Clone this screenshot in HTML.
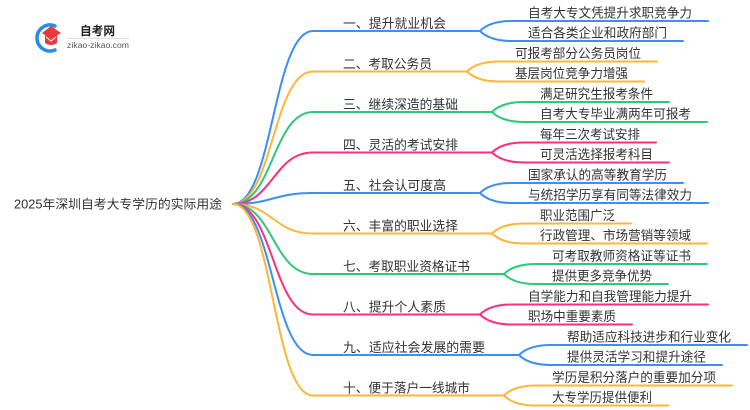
<!DOCTYPE html>
<html>
<head>
<meta charset="utf-8">
<style>
html,body{margin:0;padding:0;background:#fff;}
svg{display:block;}
text{font-family:"Liberation Sans","Noto Sans CJK SC",sans-serif;fill:#333;}
.l1{font-size:13px;}
.c{font-size:13px;}
</style>
</head>
<body>
<svg width="750" height="410" viewBox="0 0 750 410" xmlns="http://www.w3.org/2000/svg">
<rect width="750" height="410" fill="#fff"/>

<!-- Logo -->
<path d="M55,26 A13,13 0 1 0 55,50" fill="none" stroke="#2a8be6" stroke-width="3.5" stroke-linecap="round"/>
<path d="M42,33 L51,26 L61,33 L51,39 Z" fill="#e83a3a"/>
<path d="M45,35 L45,43 Q51,47 57,43 L57,35 L51,39 Z" fill="#e83a3a"/>
<path d="M46,37 L51,41 L56,37" fill="none" stroke="#fff" stroke-width="1"/>
<text x="80" y="35" style="font-size:12px;font-weight:bold;fill:#222" textLength="35" lengthAdjust="spacingAndGlyphs">自考网</text>
<line x1="67" y1="38.5" x2="129" y2="38.5" stroke="#ddd" stroke-width="1"/>
<text x="67" y="48" style="font-size:8.6px;fill:#555" textLength="62" lengthAdjust="spacingAndGlyphs">zikao-zikao.com</text>

<!-- Root -->
<text x="14" y="208.5" style="font-size:12.5px" textLength="208" lengthAdjust="spacingAndGlyphs">2025年深圳自考大专学历的实际用途</text>

<g fill="none" stroke-width="2" stroke-linecap="round">
<!-- Branch 1 -->
<path stroke="#3b8ff6" d="M233,204 C273,204 273,31 313,31 L480,31"/>
<path stroke="#3b8ff6" d="M480,31 Q490,21 512,21 L708,21 M480,31 Q490,41 512,41 L683,41"/>
<!-- Branch 2 -->
<path stroke="#fdb53a" d="M233,204 C273,204 273,71.5 313,71.5 L467,71.5"/>
<path stroke="#fdb53a" d="M467,71.5 Q477,61.5 499,61.5 L657,61.5 M467,71.5 Q477,81.5 499,81.5 L644,81.5"/>
<!-- Branch 3 -->
<path stroke="#2cc97a" d="M233,204 C273,204 273,112 313,112 L492,112"/>
<path stroke="#2cc97a" d="M492,112 Q502,102 524,102 L669,102 M492,112 Q502,122 524,122 L707,122"/>
<!-- Branch 4 -->
<path stroke="#f8317f" d="M233,204 C273,204 273,152.5 313,152.5 L492,152.5"/>
<path stroke="#f8317f" d="M492,152.5 Q502,142.5 524,142.5 L656,142.5 M492,152.5 Q502,162.5 524,162.5 L669,162.5"/>
<!-- Branch 5 -->
<path stroke="#3b8ff6" d="M233,204 C273,204 273,193 313,193 L480,193"/>
<path stroke="#3b8ff6" d="M480,193 Q490,183 512,183 L683,183 M480,193 Q490,203 512,203 L708,203"/>
<!-- Branch 6 -->
<path stroke="#fdb53a" d="M233,204 C273,204 273,233.5 313,233.5 L492,233.5"/>
<path stroke="#fdb53a" d="M492,233.5 Q502,223.5 524,223.5 L631,223.5 M492,233.5 Q502,243.5 524,243.5 L707,243.5"/>
<!-- Branch 7 -->
<path stroke="#2cc97a" d="M233,204 C273,204 273,274 313,274 L504,274"/>
<path stroke="#2cc97a" d="M504,274 Q514,264 536,264 L707,264 M504,274 Q514,284 536,284 L668,284"/>
<!-- Branch 8 -->
<path stroke="#f8317f" d="M233,204 C273,204 273,314.5 313,314.5 L480,314.5"/>
<path stroke="#f8317f" d="M480,314.5 Q490,304.5 512,304.5 L708,304.5 M480,314.5 Q490,324.5 512,324.5 L632,324.5"/>
<!-- Branch 9 -->
<path stroke="#3b8ff6" d="M233,204 C273,204 273,355 313,355 L519,355"/>
<path stroke="#3b8ff6" d="M519,355 Q529,345 551,345 L747,345 M519,355 Q529,365 551,365 L722,365"/>
<!-- Branch 10 -->
<path stroke="#fdb53a" d="M233,204 C273,204 273,395.5 313,395.5 L504,395.5"/>
<path stroke="#fdb53a" d="M504,395.5 Q514,385.5 536,385.5 L732,385.5 M504,395.5 Q514,405.5 536,405.5 L668,405.5"/>
</g>

<!-- Level 1 labels -->
<g class="l1">
<text x="343" y="28" textLength="103" lengthAdjust="spacingAndGlyphs">一、提升就业机会</text>
<text x="343" y="68.5" textLength="89" lengthAdjust="spacingAndGlyphs">二、考取公务员</text>
<text x="343" y="109" textLength="115" lengthAdjust="spacingAndGlyphs">三、继续深造的基础</text>
<text x="343" y="149.5" textLength="115" lengthAdjust="spacingAndGlyphs">四、灵活的考试安排</text>
<text x="343" y="190" textLength="103" lengthAdjust="spacingAndGlyphs">五、社会认可度高</text>
<text x="343" y="230.5" textLength="115" lengthAdjust="spacingAndGlyphs">六、丰富的职业选择</text>
<text x="343" y="271" textLength="127" lengthAdjust="spacingAndGlyphs">七、考取职业资格证书</text>
<text x="343" y="311.5" textLength="103" lengthAdjust="spacingAndGlyphs">八、提升个人素质</text>
<text x="343" y="352" textLength="142" lengthAdjust="spacingAndGlyphs">九、适应社会发展的需要</text>
<text x="343" y="392.5" textLength="127" lengthAdjust="spacingAndGlyphs">十、便于落户一线城市</text>
</g>

<!-- Children labels -->
<g class="c">
<text x="528" y="17.5" textLength="164" lengthAdjust="spacingAndGlyphs">自考大专文凭提升求职竞争力</text>
<text x="528" y="37.5" textLength="139" lengthAdjust="spacingAndGlyphs">适合各类企业和政府部门</text>

<text x="515" y="58" textLength="126" lengthAdjust="spacingAndGlyphs">可报考部分公务员岗位</text>
<text x="515" y="78" textLength="113" lengthAdjust="spacingAndGlyphs">基层岗位竞争力增强</text>

<text x="540" y="98.5" textLength="113" lengthAdjust="spacingAndGlyphs">满足研究生报考条件</text>
<text x="540" y="118.5" textLength="151" lengthAdjust="spacingAndGlyphs">自考大专毕业满两年可报考</text>

<text x="540" y="139" textLength="100" lengthAdjust="spacingAndGlyphs">每年三次考试安排</text>
<text x="540" y="159" textLength="113" lengthAdjust="spacingAndGlyphs">可灵活选择报考科目</text>

<text x="528" y="179.5" textLength="139" lengthAdjust="spacingAndGlyphs">国家承认的高等教育学历</text>
<text x="528" y="199.5" textLength="164" lengthAdjust="spacingAndGlyphs">与统招学历享有同等法律效力</text>

<text x="540" y="220" textLength="75" lengthAdjust="spacingAndGlyphs">职业范围广泛</text>
<text x="540" y="240" textLength="151" lengthAdjust="spacingAndGlyphs">行政管理、市场营销等领域</text>

<text x="552" y="260.5" textLength="139" lengthAdjust="spacingAndGlyphs">可考取教师资格证等证书</text>
<text x="552" y="280.5" textLength="100" lengthAdjust="spacingAndGlyphs">提供更多竞争优势</text>

<text x="528" y="301" textLength="164" lengthAdjust="spacingAndGlyphs">自学能力和自我管理能力提升</text>
<text x="528" y="321" textLength="88" lengthAdjust="spacingAndGlyphs">职场中重要素质</text>

<text x="567" y="341.5" textLength="164" lengthAdjust="spacingAndGlyphs">帮助适应科技进步和行业变化</text>
<text x="567" y="361.5" textLength="139" lengthAdjust="spacingAndGlyphs">提供灵活学习和提升途径</text>

<text x="552" y="382" textLength="164" lengthAdjust="spacingAndGlyphs">学历是积分落户的重要加分项</text>
<text x="552" y="402" textLength="100" lengthAdjust="spacingAndGlyphs">大专学历提供便利</text>
</g>
</svg>
</body>
</html>
